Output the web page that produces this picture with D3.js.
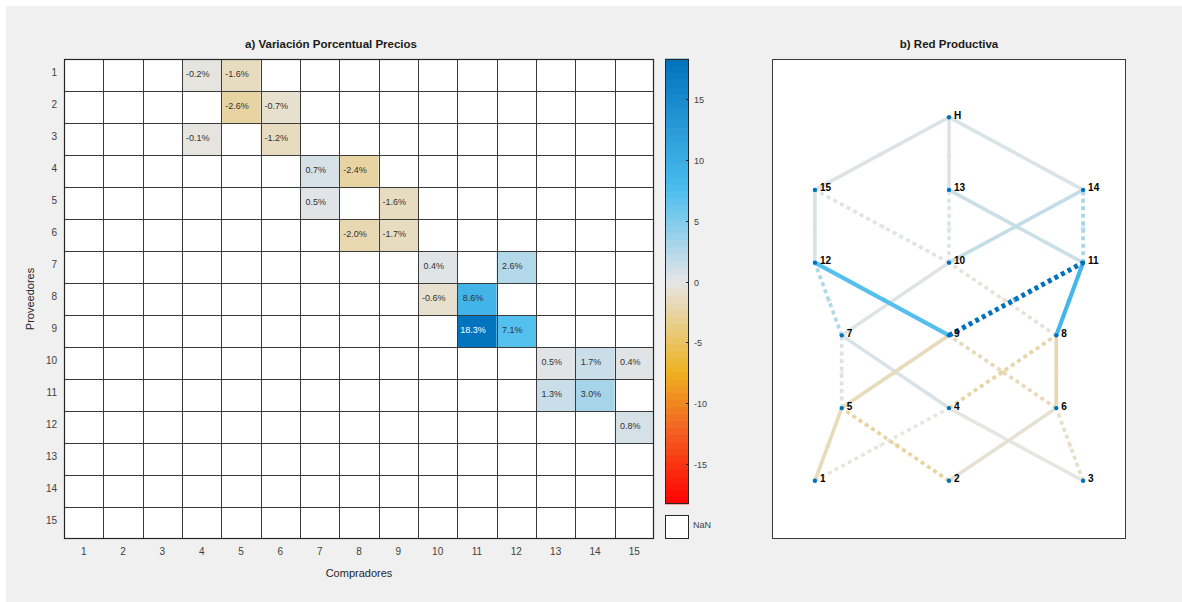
<!DOCTYPE html>
<html>
<head>
<meta charset="utf-8">
<script src="https://cdn.jsdelivr.net/npm/d3@7"></script>
<style>
  html, body { margin: 0; padding: 0; background: #ffffff; }
  svg { display: block; font-family: "Liberation Sans", Arial, Helvetica, sans-serif; }
</style>
</head>
<body>
<svg id="chart" width="1182" height="602"></svg>
<script>
// ---------------- DATA ----------------
const suppliers = ["1","2","3","4","5","6","7","8","9","10","11","12","13","14","15"];
const buyers    = ["1","2","3","4","5","6","7","8","9","10","11","12","13","14","15"];

// non-empty cells of the price-variation matrix (row = supplier, col = buyer), in %
const cellRow = [1,1,2,2,3,3,4,4,5,5,6,6,7,7,8,8,9,9,10,10,10,11,11,12];
const cellCol = [4,5,5,6,4,6,7,8,7,9,8,9,10,12,10,11,11,12,13,14,15,13,14,15];
const cellVal = [-0.2,-1.6,-2.6,-0.7,-0.1,-1.2,0.7,-2.4,0.5,-1.6,-2.0,-1.7,0.4,2.6,-0.6,8.6,18.3,7.1,0.5,1.7,0.4,1.3,3.0,0.8];
// link type of each matrix link in the network (d = indirect, s = direct)
const cellLinkType = ["d","s","d","s","s","d","s","d","d","s","s","d","s","d","d","s","d","s","d","s","d","s","d","s"];

// links to household node H
const hSources = [13,14,15];
const hValues  = [0.5,0.6,0.5];

// colour scale limits and ticks
const cLimit = 18.3;
const cbTicks = [-15,-10,-5,0,5,10,15];

// network nodes (layered layout coordinates)
const nodeNames = ["1","2","3","4","5","6","7","8","9","10","11","12","13","14","15","H"];
const nodeX     = [1,2,3,2,1.2,2.8,1.2,2.8,2,2,3,1,2,3,1,2];
const nodeLayer = [1,1,1,2,2,2,3,3,3,4,4,4,5,5,5,6];

// ---------------- COLOUR MAP ----------------
const cmapStops = [-cLimit, -12, -7.5, 0, 7.5, cLimit];
const cmapCols  = ["#ff0000", "#f26522", "#edb120", "#e6e6e6", "#4dbeee", "#0072bd"];
const cmapCont = d3.scaleLinear().domain(cmapStops).range(cmapCols).interpolate(d3.interpolateRgb).clamp(true);
const nBands = 64;
function cmap(v) {
  const t = (v + cLimit) / (2 * cLimit);
  const k = Math.min(nBands - 1, Math.max(0, Math.floor(t * nBands)));
  const vc = -cLimit + (k + 0.5) * (2 * cLimit / nBands);
  return cmapCont(vc);
}

const svg = d3.select("#chart");
// figure background
svg.append("rect").attr("x", 6).attr("y", 6).attr("width", 1176).attr("height", 596).attr("fill", "#f0f0f0");

// ---------------- HEATMAP ----------------
const hm = { left: 64, right: 654, top: 59, bottom: 539 };
const xB = d3.scaleBand().domain(buyers).range([hm.left, hm.right]);
const yS = d3.scaleBand().domain(suppliers).range([hm.top, hm.bottom]);

const gH = svg.append("g");
gH.append("rect").attr("x", hm.left).attr("y", hm.top)
  .attr("width", hm.right - hm.left).attr("height", hm.bottom - hm.top).attr("fill", "#ffffff");

const cells = cellVal.map((v, i) => ({ r: String(cellRow[i]), c: String(cellCol[i]), v }));
gH.selectAll("rect.cell").data(cells).enter().append("rect").attr("class", "cell")
  .attr("x", d => xB(d.c)).attr("y", d => yS(d.r))
  .attr("width", xB.bandwidth()).attr("height", yS.bandwidth())
  .attr("fill", d => cmap(d.v));

// grid
buyers.forEach((b, i) => {
  if (i === 0) return;
  const x = Math.round(xB(b)) + 0.5;
  gH.append("line").attr("x1", x).attr("x2", x).attr("y1", hm.top).attr("y2", hm.bottom)
    .attr("stroke", "#3a3a3a").attr("stroke-width", 1);
});
suppliers.forEach((s, i) => {
  if (i === 0) return;
  const y = Math.round(yS(s)) + 0.5;
  gH.append("line").attr("x1", hm.left).attr("x2", hm.right).attr("y1", y).attr("y2", y)
    .attr("stroke", "#3a3a3a").attr("stroke-width", 1);
});
gH.append("rect").attr("x", hm.left + 0.5).attr("y", hm.top + 0.5)
  .attr("width", hm.right - hm.left - 1).attr("height", hm.bottom - hm.top - 1)
  .attr("fill", "none").attr("stroke", "#262626").attr("stroke-width", 1.2);

// cell labels
gH.selectAll("text.cl").data(cells).enter().append("text").attr("class", "cl")
  .attr("x", d => xB(d.c) + xB.bandwidth() / 2 - 4)
  .attr("y", d => yS(d.r) + yS.bandwidth() / 2 - 1)
  .attr("text-anchor", "middle").attr("dominant-baseline", "central")
  .attr("font-size", 9)
  .attr("fill", d => (d3.hsl(cmap(d.v)).l < 0.45 ? "#ffffff" : "#333333"))
  .text(d => d.v.toFixed(1) + "%");

// axes labels
gH.selectAll("text.xt").data(buyers).enter().append("text").attr("class", "xt")
  .attr("x", d => xB(d) + xB.bandwidth() / 2).attr("y", 551)
  .attr("text-anchor", "middle").attr("dominant-baseline", "central")
  .attr("font-size", 10).attr("fill", "#404040").text(d => d);
gH.selectAll("text.yt").data(suppliers).enter().append("text").attr("class", "yt")
  .attr("x", 57).attr("y", d => yS(d) + yS.bandwidth() / 2 - 3)
  .attr("text-anchor", "end").attr("dominant-baseline", "central")
  .attr("font-size", 10).attr("fill", "#404040").text(d => d);
gH.append("text").attr("x", (hm.left + hm.right) / 2).attr("y", 573)
  .attr("text-anchor", "middle").attr("dominant-baseline", "central")
  .attr("font-size", 11).attr("fill", "#262626").text("Compradores");
gH.append("text").attr("transform", "translate(30," + ((hm.top + hm.bottom) / 2) + ") rotate(-90)")
  .attr("text-anchor", "middle").attr("dominant-baseline", "central")
  .attr("font-size", 11).attr("fill", "#262626").text("Proveedores");
svg.append("text").attr("x", 331).attr("y", 44)
  .attr("text-anchor", "middle").attr("dominant-baseline", "central")
  .attr("font-size", 11.5).attr("font-weight", "bold").attr("fill", "#1a1a1a")
  .text("a) Variación Porcentual Precios");

// ---------------- COLORBAR ----------------
const cb = { left: 665, right: 689, top: 59, bottom: 504 };
const yC = d3.scaleLinear().domain([-cLimit, cLimit]).range([cb.bottom, cb.top]);
const bandVals = d3.range(nBands).map(k => -cLimit + (k + 0.5) * (2 * cLimit / nBands));
const bandH = (cb.bottom - cb.top) / nBands;
svg.append("g").selectAll("rect").data(bandVals).enter().append("rect")
  .attr("x", cb.left).attr("width", cb.right - cb.left)
  .attr("y", d => yC(d) - bandH / 2 - 0.3).attr("height", bandH + 0.6)
  .attr("fill", d => cmapCont(d));
svg.append("rect").attr("x", cb.left + 0.5).attr("y", cb.top + 0.5)
  .attr("width", cb.right - cb.left - 1).attr("height", cb.bottom - cb.top - 1)
  .attr("fill", "none").attr("stroke", "#262626").attr("stroke-width", 1);
const gCt = svg.append("g");
cbTicks.forEach(t => {
  const y = Math.round(yC(t)) + 0.5;
  gCt.append("line").attr("x1", cb.right - 3).attr("x2", cb.right).attr("y1", y).attr("y2", y)
    .attr("stroke", "#262626").attr("stroke-width", 1);
  gCt.append("text").attr("x", cb.right + 5).attr("y", y)
    .attr("dominant-baseline", "central").attr("font-size", 9).attr("fill", "#404040").text(t);
});
svg.append("rect").attr("x", cb.left + 0.5).attr("y", 515.5).attr("width", cb.right - cb.left - 1).attr("height", 23)
  .attr("fill", "#ffffff").attr("stroke", "#262626").attr("stroke-width", 1);
svg.append("text").attr("x", cb.right + 4).attr("y", 525)
  .attr("dominant-baseline", "central").attr("font-size", 9).attr("fill", "#404040").text("NaN");

// ---------------- NETWORK ----------------
const nb = { left: 772, right: 1126, top: 59, bottom: 539 };
svg.append("rect").attr("x", nb.left + 0.5).attr("y", nb.top + 0.5)
  .attr("width", nb.right - nb.left - 1).attr("height", nb.bottom - nb.top - 1)
  .attr("fill", "#ffffff").attr("stroke", "#3a3a3a").attr("stroke-width", 1);
svg.append("text").attr("x", (nb.left + nb.right) / 2).attr("y", 44)
  .attr("text-anchor", "middle").attr("dominant-baseline", "central")
  .attr("font-size", 11.5).attr("font-weight", "bold").attr("fill", "#1a1a1a")
  .text("b) Red Productiva");

const xN = d3.scaleLinear().domain([0.68, 3.32]).range([nb.left, nb.right]);
const yN = d3.scaleLinear().domain([0.2, 6.8]).range([nb.bottom, nb.top]);
const wN = d3.scaleLinear().domain([0, cLimit]).range([3.5, 5]);

const nodes = nodeNames.map((n, i) => ({ name: n, x: xN(nodeX[i]), y: yN(nodeLayer[i]) }));
const nodeBy = {};
nodes.forEach(n => nodeBy[n.name] = n);

const links = cellVal.map((v, i) => ({ s: String(cellRow[i]), t: String(cellCol[i]), v, type: cellLinkType[i] }))
  .concat(hSources.map((s, i) => ({ s: String(s), t: "H", v: hValues[i], type: "s" })));
links.sort((a, b) => Math.abs(a.v) - Math.abs(b.v));

const gL = svg.append("g");
links.forEach(l => {
  const a = nodeBy[l.s], b = nodeBy[l.t];
  const col = cmapCont(l.v);
  const w = wN(Math.abs(l.v));
  gL.append("line").attr("x1", a.x).attr("y1", a.y).attr("x2", b.x).attr("y2", b.y)
    .attr("stroke", col).attr("stroke-width", w)
    .attr("stroke-dasharray", l.type === "d" ? "4,3.5" : null);
  // small arrowhead at midpoint
  const mx = (a.x + b.x) / 2, my = (a.y + b.y) / 2;
  const ang = Math.atan2(b.y - a.y, b.x - a.x) * 180 / Math.PI;
  gL.append("path").attr("d", "M3,0 L-3,-3 L-3,3 Z")
    .attr("transform", "translate(" + mx + "," + my + ") rotate(" + ang + ")")
    .attr("fill", col).attr("opacity", 0.6);
});

const gNd = svg.append("g");
gNd.selectAll("circle").data(nodes).enter().append("circle")
  .attr("cx", d => d.x).attr("cy", d => d.y).attr("r", 2.2).attr("fill", "#0072bd");
gNd.selectAll("text").data(nodes).enter().append("text")
  .attr("x", d => d.x + 5).attr("y", d => d.y - 2)
  .attr("dominant-baseline", "central").attr("font-size", 10).attr("font-weight", "bold")
  .attr("fill", "#000000").text(d => d.name);
</script>
</body>
</html>
